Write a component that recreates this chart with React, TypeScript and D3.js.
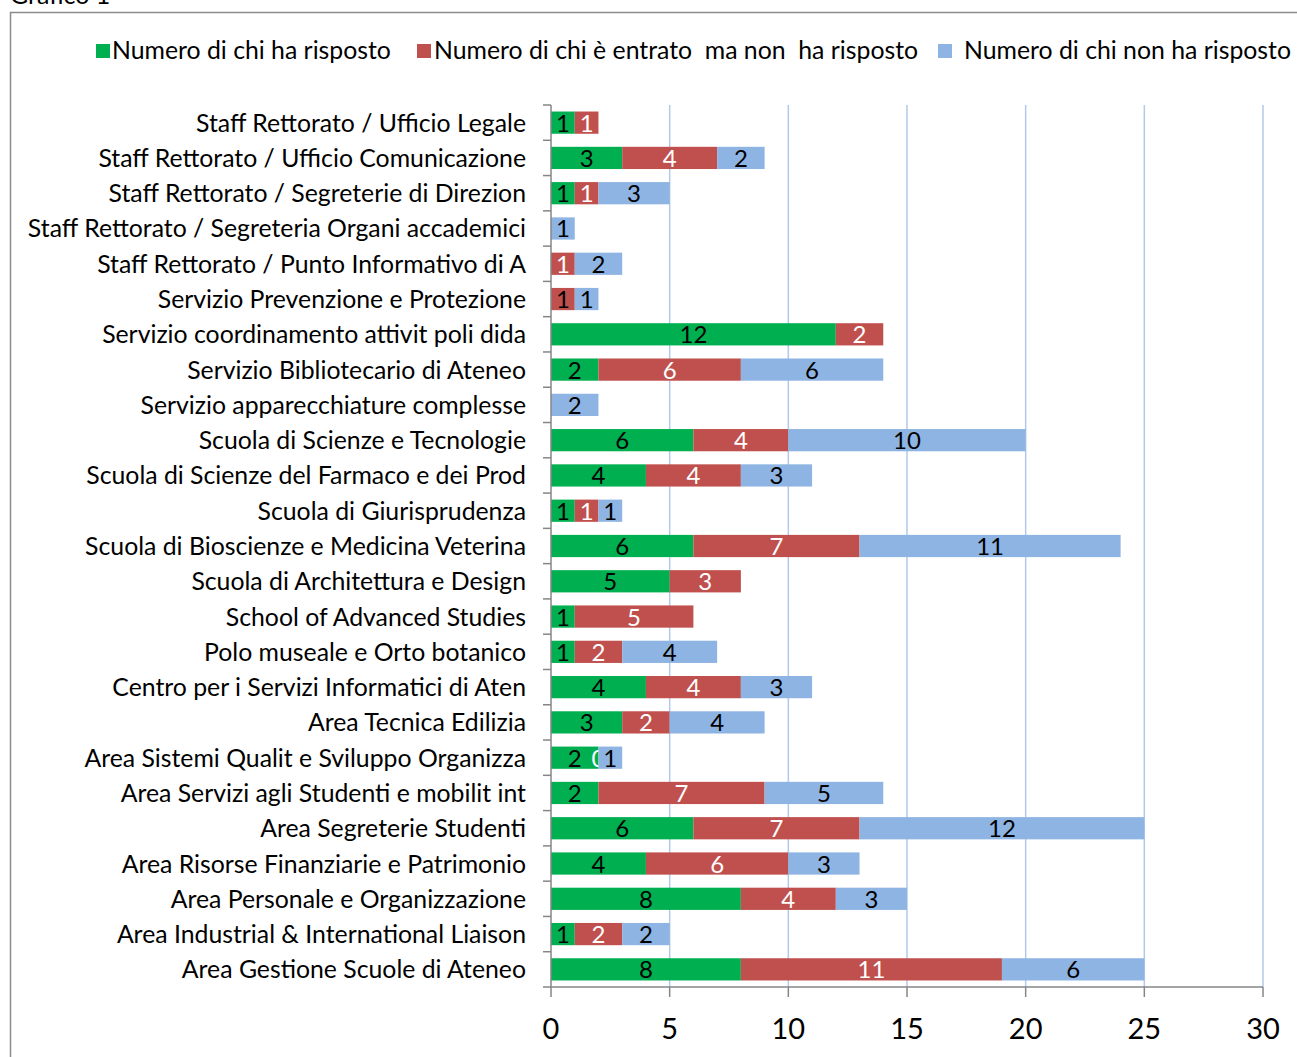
import React, { useEffect, useRef } from "react";
import * as d3 from "d3";

// categories, top to bottom
const categories = [
  "Staff Rettorato / Ufficio Legale",
  "Staff Rettorato / Ufficio Comunicazione",
  "Staff Rettorato / Segreterie di Direzion",
  "Staff Rettorato / Segreteria Organi accademici",
  "Staff Rettorato / Punto Informativo di A",
  "Servizio Prevenzione e Protezione",
  "Servizio coordinamento attivit poli dida",
  "Servizio Bibliotecario di Ateneo",
  "Servizio apparecchiature complesse",
  "Scuola di Scienze e Tecnologie",
  "Scuola di Scienze del Farmaco e dei Prod",
  "Scuola di Giurisprudenza",
  "Scuola di Bioscienze e Medicina Veterina",
  "Scuola di Architettura e Design",
  "School of Advanced Studies",
  "Polo museale e Orto botanico",
  "Centro per i Servizi Informatici di Aten",
  "Area Tecnica Edilizia",
  "Area Sistemi Qualit e Sviluppo Organizza",
  "Area Servizi agli Studenti e mobilit int",
  "Area Segreterie Studenti",
  "Area Risorse Finanziarie e Patrimonio",
  "Area Personale e Organizzazione",
  "Area Industrial & International Liaison",
  "Area Gestione Scuole di Ateneo",
];

// null = empty cell (no bar, no label)
const risposto = [1, 3, 1, null, null, null, 12, 2, null, 6, 4, 1, 6, 5, 1, 1, 4, 3, 2, 2, 6, 4, 8, 1, 8];
const entratoNonRisposto = [1, 4, 1, null, 1, 1, 2, 6, null, 4, 4, 1, 7, 3, 5, 2, 4, 2, 0, 7, 7, 6, 4, 2, 11];
const nonRisposto = [null, 2, 3, 1, 2, 1, null, 6, 2, 10, 3, 1, 11, null, null, 4, 3, 4, 1, 5, 12, 3, 3, 2, 6];

const seriesNames = [
  "Numero di chi ha risposto",
  "Numero di chi è entrato  ma non  ha risposto",
  "Numero di chi non ha risposto",
];
const xTicks = [0, 5, 10, 15, 20, 25, 30];

const colors = ["#00b050", "#c0504d", "#8eb4e3"];
const labelColors = ["#000", "#fff", "#000"];

export default function App() {
  const ref = useRef<SVGSVGElement>(null);

  useEffect(() => {
    const width = 1297;
    const height = 1057;
    const svg = d3.select(ref.current);
    svg.selectAll("*").remove();

    const font = "Lato, 'Open Sans', sans-serif";
    const plot = { left: 551, right: 1263, top: 105, bottom: 987 };

    // frame and title (cut off at top like the source)
    svg.append("text").attr("x", 10).attr("y", 4).attr("font-family", font).attr("font-size", 25).text("Grafico 1");
    svg
      .append("path")
      .attr("d", `M${width + 5},12.5H10.5V${height + 5}`)
      .attr("fill", "none")
      .attr("stroke", "#8c8c8c")
      .attr("stroke-width", 1.5);

    const x = d3.scaleLinear().domain([0, 30]).range([plot.left, plot.right]);
    const y = d3.scaleBand().domain(categories).range([plot.top, plot.bottom]).paddingInner(0.37).paddingOuter(0.185);
    const yb = d3.scaleBand().domain(categories).range([plot.top, plot.bottom]);

    // gridlines
    svg
      .append("g")
      .selectAll("line")
      .data(xTicks.slice(1))
      .join("line")
      .attr("x1", (d) => x(d))
      .attr("x2", (d) => x(d))
      .attr("y1", plot.top)
      .attr("y2", plot.bottom)
      .attr("stroke", "#b3c9ea")
      .attr("stroke-width", 1.5);

    // stacked bars
    const seriesData = [risposto, entratoNonRisposto, nonRisposto];
    const g = svg.append("g");
    categories.forEach((c, i) => {
      let acc = 0;
      seriesData.forEach((s, k) => {
        const v = s[i];
        if (v === null) return;
        const x0 = x(acc);
        const x1 = x(acc + v);
        acc += v;
        if (v > 0) {
          g.append("rect")
            .attr("x", x0)
            .attr("y", y(c)!)
            .attr("width", x1 - x0)
            .attr("height", y.bandwidth())
            .attr("fill", colors[k]);
        }
        // the Prevenzione red label is black in the source
        const fill = c === "Servizio Prevenzione e Protezione" && k === 1 ? "#000" : labelColors[k];
        g.append("text")
          .attr("x", (x0 + x1) / 2)
          .attr("y", y(c)! + y.bandwidth() / 2 + 9)
          .attr("text-anchor", "middle")
          .attr("font-family", font)
          .attr("font-size", 24)
          .attr("fill", fill)
          .text(v);
      });
    });

    // y axis
    const yAxis = svg.append("g").attr("stroke", "#868686").attr("stroke-width", 1.5);
    yAxis.append("line").attr("x1", plot.left).attr("x2", plot.left).attr("y1", plot.top).attr("y2", plot.bottom);
    yAxis
      .selectAll("line.t")
      .data(categories.map((c) => yb(c)!).concat([plot.bottom]))
      .join("line")
      .attr("class", "t")
      .attr("x1", plot.left - 8)
      .attr("x2", plot.left)
      .attr("y1", (d) => d)
      .attr("y2", (d) => d);

    svg
      .append("g")
      .selectAll("text")
      .data(categories)
      .join("text")
      .attr("x", 526)
      .attr("y", (d) => y(d)! + y.bandwidth() / 2 + 9)
      .attr("text-anchor", "end")
      .attr("font-family", font)
      .attr("font-size", 24.8)
      .attr("fill", "#000")
      .text((d) => d);

    // x axis
    const xAxis = svg.append("g");
    xAxis
      .append("line")
      .attr("x1", plot.left)
      .attr("x2", plot.right)
      .attr("y1", plot.bottom)
      .attr("y2", plot.bottom)
      .attr("stroke", "#868686")
      .attr("stroke-width", 1.5);
    xAxis
      .selectAll("line.t")
      .data(xTicks)
      .join("line")
      .attr("class", "t")
      .attr("x1", (d) => x(d))
      .attr("x2", (d) => x(d))
      .attr("y1", plot.bottom)
      .attr("y2", plot.bottom + 10)
      .attr("stroke", "#868686")
      .attr("stroke-width", 1.5);
    xAxis
      .selectAll("text")
      .data(xTicks)
      .join("text")
      .attr("x", (d) => x(d))
      .attr("y", plot.bottom + 52)
      .attr("text-anchor", "middle")
      .attr("font-family", font)
      .attr("font-size", 29)
      .text((d) => d);

    // legend
    const legendX = [96, 417, 938];
    const legendTextX = [112, 434, 964];
    const leg = svg.append("g");
    seriesNames.forEach((n, k) => {
      leg.append("rect").attr("x", legendX[k]).attr("y", 44).attr("width", 14).attr("height", 14).attr("fill", colors[k]);
      leg
        .append("text")
        .attr("x", legendTextX[k])
        .attr("y", 59)
        .attr("font-family", font)
        .attr("font-size", 24.8)
        .attr("xml:space", "preserve")
        .style("white-space", "pre")
        .text(n);
    });
  }, []);

  return (
    <div style={{ position: "absolute", left: 0, top: 0 }}>
      <svg ref={ref} width={1297} height={1057} style={{ display: "block", background: "#fff" }} />
    </div>
  );
}
